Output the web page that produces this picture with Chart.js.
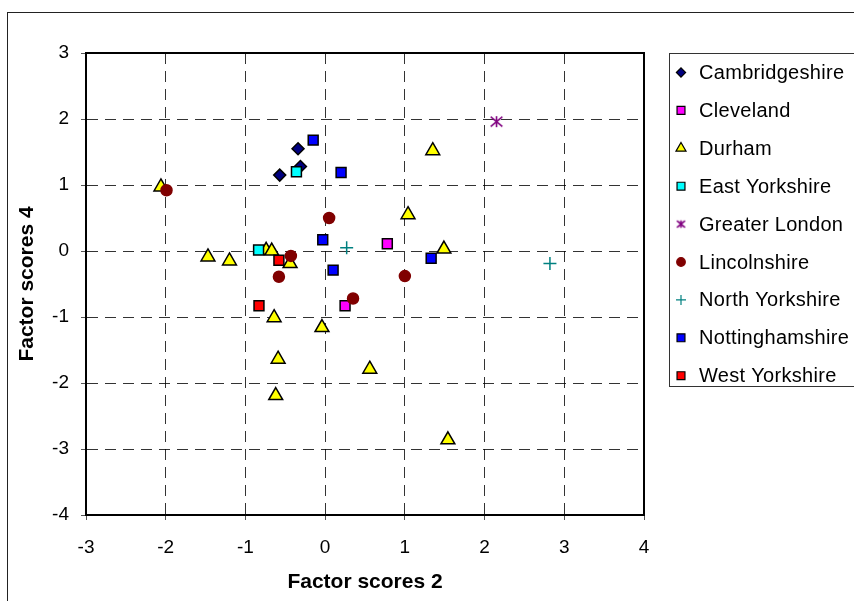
<!DOCTYPE html>
<html>
<head>
<meta charset="utf-8">
<script src="https://cdn.jsdelivr.net/npm/chart.js"></script>
<style>
	html, body { margin: 0; padding: 0; background: #fff; }
	#wrap { width: 854px; height: 601px; position: relative; }
</style>
</head>
<body>
<div id="wrap"><canvas id="factorScores"></canvas></div>
<script>
// Series names, in the order of the legend
const counties = [
	"Cambridgeshire",
	"Cleveland",
	"Durham",
	"East Yorkshire",
	"Greater London",
	"Lincolnshire",
	"North Yorkshire",
	"Nottinghamshire",
	"West Yorkshire",
];

// [factor scores 2, factor scores 4] for each county
const cambridgeshire = [[-0.34, 1.55], [-0.31, 1.28], [-0.57, 1.15]];
const cleveland = [[0.78, 0.11], [0.25, -0.83]];
const durham = [
	[-2.06, 0.97], [1.35, 1.52], [1.04, 0.55], [-1.47, -0.09], [-1.2, -0.15],
	[-0.74, 0.01], [-0.67, 0.0], [-0.44, -0.19], [-0.64, -1.01], [-0.04, -1.16],
	[-0.59, -1.64], [0.56, -1.79], [-0.62, -2.19], [1.49, 0.03], [1.54, -2.86],
];
const eastYorkshire = [[-0.36, 1.2], [-0.835, 0.015]];
const greaterLondon = [[2.15, 1.96]];
const lincolnshire = [[-1.99, 0.92], [0.05, 0.5], [-0.43, -0.075], [-0.58, -0.39], [1.0, -0.38], [0.35, -0.72]];
const northYorkshire = [[0.27, 0.05], [2.82, -0.19]];
const nottinghamshire = [[-0.15, 1.68], [0.2, 1.19], [-0.03, 0.17], [0.1, -0.29], [1.33, -0.11]];
const westYorkshire = [[-0.58, -0.14], [-0.83, -0.83]];

const seriesValues = [
	cambridgeshire, cleveland, durham, eastYorkshire, greaterLondon,
	lincolnshire, northYorkshire, nottinghamshire, westYorkshire,
];

// axis ranges
const xRange = [-3, 4];
const yRange = [-4, 3];

// excel asterisk marker: an X with a vertical bar through it
function asterisk(size, color) {
	const c = document.createElement("canvas");
	c.width = size;
	c.height = size;
	const g = c.getContext("2d");
	const m = size / 2;
	const k = size / 2 - 1;
	g.strokeStyle = color;
	g.lineWidth = 1.6;
	g.beginPath();
	g.moveTo(m, m - k * 0.85);
	g.lineTo(m, m + k * 0.85);
	g.moveTo(m - k * 0.9, m - k * 0.75);
	g.lineTo(m + k * 0.9, m + k * 0.75);
	g.moveTo(m + k * 0.9, m - k * 0.75);
	g.lineTo(m - k * 0.9, m + k * 0.75);
	g.stroke();
	return c;
}

// marker looks (excel style)
const markers = [
	{style: "rectRot", fill: "#000080", line: "#000000", r: 6, lr: 4.6},
	{style: "rect", fill: "#FF00FF", line: "#000000", r: 7, lr: 5.6},
	{style: "triangle", fill: "#FFFF00", line: "#000000", r: 8, lr: 5.8},
	{style: "rect", fill: "#00FFFF", line: "#000000", r: 7, lr: 5.6},
	{style: asterisk(15, "#800080"), legendStyle: asterisk(11, "#800080"), fill: "#800080", line: "#800080", r: 8, lr: 6},
	{style: "circle", fill: "#800000", line: "#800000", r: 5.5, lr: 4.3},
	{style: "cross", fill: "#008080", line: "#008080", r: 6.5, lr: 5},
	{style: "rect", fill: "#0000FF", line: "#000000", r: 7, lr: 5.6},
	{style: "rect", fill: "#FF0000", line: "#000000", r: 7, lr: 5.6},
];

const fontFamily = "'Liberation Sans', Arial, sans-serif";

const datasets = counties.map((name, i) => ({
	label: name,
	data: seriesValues[i].map((p) => ({x: p[0], y: p[1]})),
	pointStyle: markers[i].style,
	pointRadius: markers[i].r,
	pointHoverRadius: markers[i].r,
	backgroundColor: markers[i].fill,
	borderColor: markers[i].line,
	pointBorderWidth: 1.5,
	borderWidth: 1.5,
	showLine: false,
	// later series painted on top, like excel
	order: counties.length - i,
}));

// frame round the plot, outer border and the boxed legend
const excelFrame = {
	id: "excelFrame",
	beforeDraw(chart) {
		const ctx = chart.ctx;
		ctx.save();
		ctx.strokeStyle = "#222";
		ctx.lineWidth = 1;
		ctx.strokeRect(7.5, 12.5, 900, 700);
		ctx.restore();
	},
	beforeDatasetsDraw(chart) {
		const a = chart.chartArea;
		const ctx = chart.ctx;
		ctx.save();
		ctx.strokeStyle = "#000";
		ctx.lineWidth = 2;
		ctx.strokeRect(a.left, a.top, a.right - a.left, a.bottom - a.top);
		ctx.restore();
	},
	afterDraw(chart) {
		const ctx = chart.ctx;
		ctx.save();
		ctx.strokeStyle = "#333";
		ctx.lineWidth = 1;
		ctx.strokeRect(669.5, 53.5, 300, 333);
		ctx.font = "20px " + fontFamily;
		ctx.textBaseline = "middle";
		if ("letterSpacing" in ctx) ctx.letterSpacing = "0.3px";
		chart.data.datasets.forEach((ds, i) => {
			const y = 72.5 + i * 37.9;
			const m = markers[i];
			ctx.fillStyle = m.fill;
			ctx.strokeStyle = m.line;
			ctx.lineWidth = 1.2;
			Chart.helpers.drawPoint(ctx, {pointStyle: m.legendStyle || m.style, radius: m.lr, borderWidth: 1.2, rotation: 0}, 681, y);
			ctx.fillStyle = "#000";
			ctx.fillText(ds.label, 699, y + 1);
		});
		ctx.restore();
	},
};

const gridLines = {
	color: "rgba(0,0,0,0.8)",
	lineWidth: 1,
	tickBorderDash: [],
	tickColor: "#555",
	tickLength: 5,
};
// in v4 border.dash is what dashes the grid lines
const axisBorder = {display: true, color: "#000", width: 2, dash: [11, 7]};

const canvas = document.getElementById("factorScores").getContext("2d");
const config = {
	type: "scatter",
	data: {datasets: datasets},
	options: {
		responsive: true,
		maintainAspectRatio: false,
		animation: false,
		layout: {
			padding: {left: 0, top: 53, right: 210, bottom: 0},
		},
		scales: {
			x: {
				type: "linear",
				min: xRange[0],
				max: xRange[1],
				afterFit: (scale) => {
					scale.height = 86;
				},
				ticks: {
					stepSize: 1,
					padding: 16,
					color: "#000",
					font: {family: fontFamily, size: 19},
				},
				grid: gridLines,
				border: axisBorder,
				title: {
					display: true,
					text: "Factor scores 2",
					color: "#000",
					font: {family: fontFamily, size: 21, weight: "bold"},
					padding: {top: 0, bottom: 6},
				},
			},
			y: {
				type: "linear",
				min: yRange[0],
				max: yRange[1],
				afterFit: (scale) => {
					scale.width = 86;
				},
				ticks: {
					stepSize: 1,
					padding: 12,
					color: "#000",
					font: {family: fontFamily, size: 19},
				},
				grid: gridLines,
				border: axisBorder,
				title: {
					display: true,
					text: "Factor scores 4",
					color: "#000",
					font: {family: fontFamily, size: 21, weight: "bold"},
					padding: {top: 15, bottom: 0},
				},
			},
		},
		plugins: {
			legend: {display: false},
			tooltip: {enabled: false},
		},
	},
	plugins: [excelFrame],
};
new Chart(canvas, config);
</script>
</body>
</html>
